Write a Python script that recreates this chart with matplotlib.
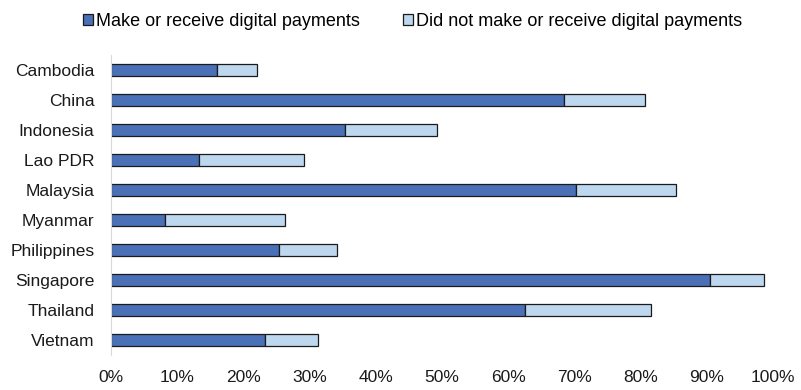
import numpy as np
import matplotlib.pyplot as plt
from matplotlib.ticker import PercentFormatter

plt.rcParams['font.family'] = ['Liberation Sans', 'DejaVu Sans']

countries = ["Cambodia", "China", "Indonesia", "Lao PDR", "Malaysia",
             "Myanmar", "Philippines", "Singapore", "Thailand", "Vietnam"]
digital = [16.0, 68.4, 35.3, 13.3, 70.3, 8.2, 25.4, 90.5, 62.5, 23.2]
no_digital = [6.0, 12.2, 14.0, 15.8, 15.1, 18.1, 8.8, 8.1, 19.1, 8.1]

dark = "#4a70b7"
light = "#bdd7ee"

fig = plt.figure(figsize=(8.01, 3.9), dpi=100)
ax = fig.add_axes([111 / 801, 35 / 390, 662 / 801, 300 / 390])

y = np.arange(len(countries))
ax.barh(y, digital, height=0.43, color=dark, edgecolor="#1a1a1a", linewidth=0.9,
        label="Make or receive digital payments")
ax.barh(y, no_digital, left=digital, height=0.43, color=light, edgecolor="#1a1a1a",
        linewidth=0.9, label="Did not make or receive digital payments")

ax.set_xlim(0, 100)
ax.set_ylim(len(countries) - 0.5, -0.5)
ax.set_yticks(y)
ax.set_yticklabels(countries)
ax.set_xticks(np.arange(0, 101, 10))
ax.xaxis.set_major_formatter(PercentFormatter(decimals=0))
ax.tick_params(axis="both", length=0, labelsize=12.5, colors="#1a1a1a")
ax.tick_params(axis="x", pad=11)
ax.tick_params(axis="y", pad=12)

for side in ["top", "right", "bottom"]:
    ax.spines[side].set_visible(False)
ax.spines["left"].set_color("#d9d9d9")

fig.legend(loc="center", bbox_to_anchor=(0.515, 0.945), ncol=2, frameon=False,
           fontsize=13, handlelength=0.55, handleheight=0.55, handletextpad=0.15,
           columnspacing=2.4)

fig.savefig("out.png", dpi=100)
